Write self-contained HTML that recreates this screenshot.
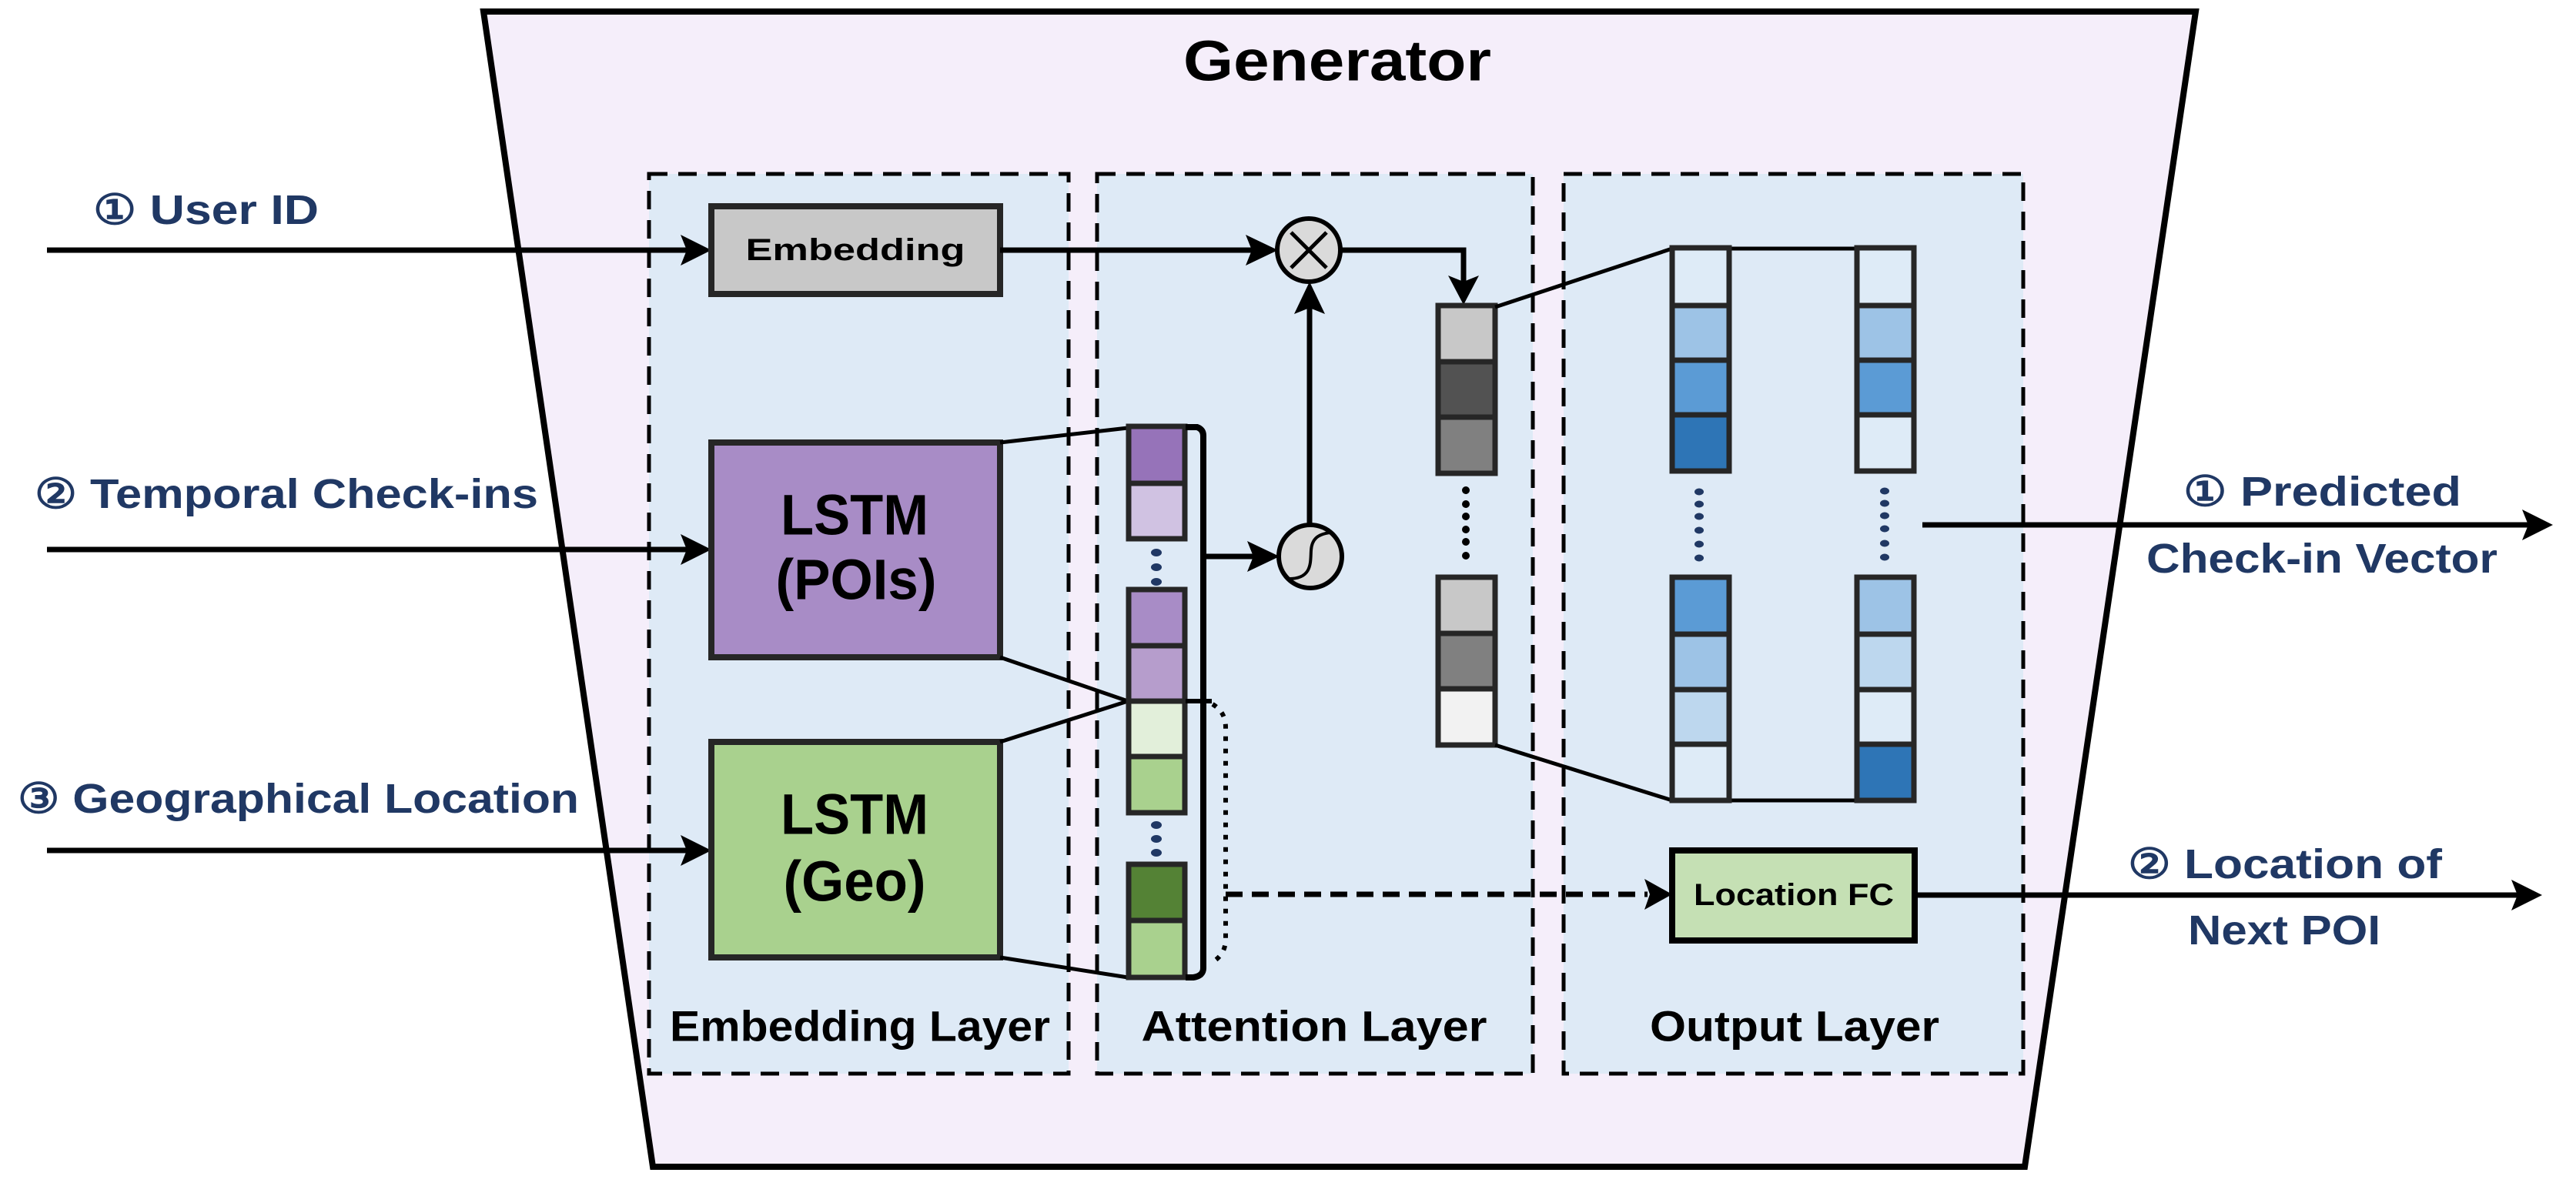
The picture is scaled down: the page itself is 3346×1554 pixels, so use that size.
<!DOCTYPE html>
<html><head><meta charset="utf-8"><style>
html,body{margin:0;padding:0;background:#fff}
svg{display:block}
text{font-family:"Liberation Sans",sans-serif;font-weight:bold}
</style></head><body>
<svg width="3346" height="1554" viewBox="0 0 3346 1554" xmlns="http://www.w3.org/2000/svg">
<defs>
<marker id="ah" viewBox="0 0 20 20" refX="18" refY="10" markerWidth="10" markerHeight="10" markerUnits="userSpaceOnUse" orient="auto">
</marker>
</defs>
<!-- trapezoid -->
<polygon points="628,15 2852,15 2630,1516 848,1516" fill="#f5eefa" stroke="#000" stroke-width="8"/>
<text x="1737" y="79" font-size="74" text-anchor="middle" dominant-baseline="central" textLength="400" lengthAdjust="spacingAndGlyphs">Generator</text>

<!-- dashed layer boxes -->
<g fill="#deeaf6" stroke="#000" stroke-width="5" stroke-dasharray="24,14">
<rect x="843" y="226" width="545" height="1169"/>
<rect x="1425" y="226" width="566" height="1169"/>
<rect x="2031" y="226" width="597" height="1169"/>
</g>
<text x="1117" y="1333" font-size="56" text-anchor="middle" dominant-baseline="central" textLength="494" lengthAdjust="spacingAndGlyphs">Embedding Layer</text>
<text x="1707" y="1333" font-size="56" text-anchor="middle" dominant-baseline="central" textLength="449" lengthAdjust="spacingAndGlyphs">Attention Layer</text>
<text x="2331" y="1333" font-size="56" text-anchor="middle" dominant-baseline="central" textLength="376" lengthAdjust="spacingAndGlyphs">Output Layer</text>

<!-- input labels -->
<g fill="#203864" font-size="54">
<text x="121" y="273" dominant-baseline="central" textLength="293" lengthAdjust="spacingAndGlyphs">① User ID</text>
<text x="45" y="642" dominant-baseline="central" textLength="654" lengthAdjust="spacingAndGlyphs">② Temporal Check-ins</text>
<text x="23" y="1038" dominant-baseline="central" textLength="729" lengthAdjust="spacingAndGlyphs">③ Geographical Location</text>
<text x="2836" y="639" dominant-baseline="central" textLength="361" lengthAdjust="spacingAndGlyphs">① Predicted</text>
<text x="2788" y="726" dominant-baseline="central" textLength="456" lengthAdjust="spacingAndGlyphs">Check-in Vector</text>
<text x="2764" y="1123" dominant-baseline="central" textLength="408" lengthAdjust="spacingAndGlyphs">② Location of</text>
<text x="2842" y="1209" dominant-baseline="central" textLength="250" lengthAdjust="spacingAndGlyphs">Next POI</text>
</g>

<!-- input arrows -->
<g stroke="#000" stroke-width="7" fill="none">
<line x1="61" y1="325" x2="900" y2="325"/>
<line x1="61" y1="714" x2="900" y2="714"/>
<line x1="61" y1="1105" x2="900" y2="1105"/>
</g>
<g fill="#000">
<polygon points="924,325 884,305 892,325 884,345"/>
<polygon points="924,714 884,694 892,714 884,734"/>
<polygon points="924,1105 884,1085 892,1105 884,1125"/>
</g>

<!-- boxes -->
<rect x="924" y="268" width="375" height="114" fill="#c8c8c8" stroke="#262626" stroke-width="8"/>
<text x="1111" y="325" font-size="40" text-anchor="middle" dominant-baseline="central" textLength="285" lengthAdjust="spacingAndGlyphs">Embedding</text>
<rect x="924" y="575" width="375" height="279" fill="#a88cc6" stroke="#262626" stroke-width="8"/>
<text x="1110" y="669" font-size="74" text-anchor="middle" dominant-baseline="central" textLength="192" lengthAdjust="spacingAndGlyphs">LSTM</text>
<text x="1112" y="753" font-size="74" text-anchor="middle" dominant-baseline="central" textLength="209" lengthAdjust="spacingAndGlyphs">(POIs)</text>
<rect x="924" y="964" width="375" height="280" fill="#a9d18e" stroke="#262626" stroke-width="8"/>
<text x="1110" y="1058" font-size="74" text-anchor="middle" dominant-baseline="central" textLength="192" lengthAdjust="spacingAndGlyphs">LSTM</text>
<text x="1110" y="1145" font-size="74" text-anchor="middle" dominant-baseline="central" textLength="185" lengthAdjust="spacingAndGlyphs">(Geo)</text>

<!-- LSTM to column lines -->
<g stroke="#000" stroke-width="5">
<line x1="1299" y1="575" x2="1465" y2="556"/>
<line x1="1299" y1="854" x2="1465" y2="911"/>
<line x1="1299" y1="964" x2="1465" y2="911"/>
<line x1="1299" y1="1244" x2="1465" y2="1270"/>
</g>

<!-- attention column -->
<g stroke="#262626" stroke-width="7">
<rect x="1466" y="554" width="73" height="74" fill="#9673b9"/>
<rect x="1466" y="628" width="73" height="72" fill="#d0c2e2"/>
<rect x="1466" y="766" width="73" height="73" fill="#a88cc6"/>
<rect x="1466" y="839" width="73" height="72" fill="#b69dcc"/>
<rect x="1466" y="911" width="73" height="72" fill="#e2efda"/>
<rect x="1466" y="983" width="73" height="73" fill="#a9d18e"/>
<rect x="1466" y="1123" width="73" height="73" fill="#548235"/>
<rect x="1466" y="1196" width="73" height="74" fill="#a9d18e"/>
</g>
<g fill="#203864">
<ellipse cx="1502" cy="718" rx="7" ry="5"/><ellipse cx="1502" cy="737" rx="7" ry="5"/><ellipse cx="1502" cy="756" rx="7" ry="5"/>
<ellipse cx="1502" cy="1072" rx="7" ry="5"/><ellipse cx="1502" cy="1090" rx="7" ry="5"/><ellipse cx="1502" cy="1108" rx="7" ry="5"/>
</g>
<!-- bracket -->
<path d="M1540,555 L1555,555 Q1563,558 1563,566 L1563,1258 Q1563,1268 1550,1270 L1540,1270" fill="none" stroke="#000" stroke-width="8"/>
<line x1="1540" y1="911" x2="1574" y2="911" stroke="#000" stroke-width="6"/>
<path d="M1575,915 Q1592,925 1592,945 L1592,1220 Q1592,1240 1575,1250" fill="none" stroke="#000" stroke-width="6" stroke-dasharray="6,10"/>
<line x1="1592" y1="1162" x2="2140" y2="1162" stroke="#000" stroke-width="7" stroke-dasharray="22,12"/>
<polygon points="2172,1162 2136,1142 2143,1162 2136,1182" fill="#000"/>

<!-- arrows to circles -->
<g stroke="#000" stroke-width="7" fill="none">
<line x1="1299" y1="325" x2="1640" y2="325"/>
<line x1="1563" y1="723" x2="1640" y2="723"/>
<line x1="1701" y1="683" x2="1701" y2="390"/>
<polyline points="1740,325 1901,325 1901,370"/>
</g>
<g fill="#000">
<polygon points="1660,325 1618,305 1626,325 1618,345"/>
<polygon points="1662,723 1620,703 1628,723 1620,743"/>
<polygon points="1701,366 1681,408 1701,400 1721,408"/>
<polygon points="1901,396 1881,358 1901,366 1921,358"/>
</g>
<circle cx="1700" cy="325" r="41" fill="#dadada" stroke="#000" stroke-width="6"/>
<path d="M1677,302 L1723,348 M1723,302 L1677,348" stroke="#000" stroke-width="5"/>
<circle cx="1702" cy="723" r="41" fill="#dadada" stroke="#000" stroke-width="6"/>
<path d="M1674,752 C1705,752 1702,730 1703,715 C1704,700 1712,694 1728,692" fill="none" stroke="#000" stroke-width="4"/>

<!-- gray vectors -->
<g stroke="#262626" stroke-width="7">
<rect x="1868" y="397" width="74" height="73" fill="#c8c8c8"/>
<rect x="1868" y="470" width="74" height="72" fill="#525252"/>
<rect x="1868" y="542" width="74" height="73" fill="#808080"/>
<rect x="1868" y="750" width="74" height="73" fill="#c8c8c8"/>
<rect x="1868" y="823" width="74" height="72" fill="#808080"/>
<rect x="1868" y="895" width="74" height="73" fill="#f2f2f2"/>
</g>
<g fill="#000">
<circle cx="1904" cy="637" r="5"/><circle cx="1904" cy="655" r="5"/><circle cx="1904" cy="671" r="5"/><circle cx="1904" cy="688" r="5"/><circle cx="1904" cy="704" r="5"/><circle cx="1904" cy="722" r="5"/>
</g>
<g stroke="#000" stroke-width="5">
<line x1="1942" y1="399" x2="2172" y2="323"/>
<line x1="1942" y1="968" x2="2172" y2="1040"/>
<line x1="2248" y1="323" x2="2409" y2="323"/>
<line x1="2248" y1="1040" x2="2409" y2="1040"/>
</g>

<!-- blue columns -->
<g stroke="#262626" stroke-width="7">
<rect x="2172" y="322" width="74" height="75" fill="#deebf7"/>
<rect x="2172" y="397" width="74" height="71" fill="#9dc3e6"/>
<rect x="2172" y="468" width="74" height="71" fill="#5b9bd5"/>
<rect x="2172" y="539" width="74" height="73" fill="#2e75b6"/>
<rect x="2172" y="750" width="74" height="74" fill="#5b9bd5"/>
<rect x="2172" y="824" width="74" height="72" fill="#9dc3e6"/>
<rect x="2172" y="896" width="74" height="71" fill="#bdd7ee"/>
<rect x="2172" y="967" width="74" height="73" fill="#deebf7"/>
<rect x="2412" y="322" width="74" height="75" fill="#deebf7"/>
<rect x="2412" y="397" width="74" height="71" fill="#9dc3e6"/>
<rect x="2412" y="468" width="74" height="71" fill="#5b9bd5"/>
<rect x="2412" y="539" width="74" height="73" fill="#deebf7"/>
<rect x="2412" y="750" width="74" height="74" fill="#9dc3e6"/>
<rect x="2412" y="824" width="74" height="72" fill="#bdd7ee"/>
<rect x="2412" y="896" width="74" height="71" fill="#deebf7"/>
<rect x="2412" y="967" width="74" height="73" fill="#2e75b6"/>
</g>
<g fill="#203864">
<ellipse cx="2207" cy="639" rx="6" ry="4.5"/><ellipse cx="2207" cy="655" rx="6" ry="4.5"/><ellipse cx="2207" cy="671" rx="6" ry="4.5"/><ellipse cx="2207" cy="689" rx="6" ry="4.5"/><ellipse cx="2207" cy="707" rx="6" ry="4.5"/><ellipse cx="2207" cy="725" rx="6" ry="4.5"/>
<ellipse cx="2448" cy="638" rx="6" ry="4.5"/><ellipse cx="2448" cy="654" rx="6" ry="4.5"/><ellipse cx="2448" cy="670" rx="6" ry="4.5"/><ellipse cx="2448" cy="687" rx="6" ry="4.5"/><ellipse cx="2448" cy="706" rx="6" ry="4.5"/><ellipse cx="2448" cy="724" rx="6" ry="4.5"/>
</g>

<!-- outputs -->
<line x1="2497" y1="682" x2="3290" y2="682" stroke="#000" stroke-width="7"/>
<polygon points="3316,682 3276,662 3284,682 3276,702" fill="#000"/>
<rect x="2172" y="1105" width="315" height="117" fill="#c5e0b4" stroke="#000" stroke-width="8"/>
<text x="2330" y="1163" font-size="40" text-anchor="middle" dominant-baseline="central" textLength="260" lengthAdjust="spacingAndGlyphs">Location FC</text>
<line x1="2487" y1="1163" x2="3275" y2="1163" stroke="#000" stroke-width="7"/>
<polygon points="3302,1163 3262,1143 3270,1163 3262,1183" fill="#000"/>
</svg>
</body></html>
